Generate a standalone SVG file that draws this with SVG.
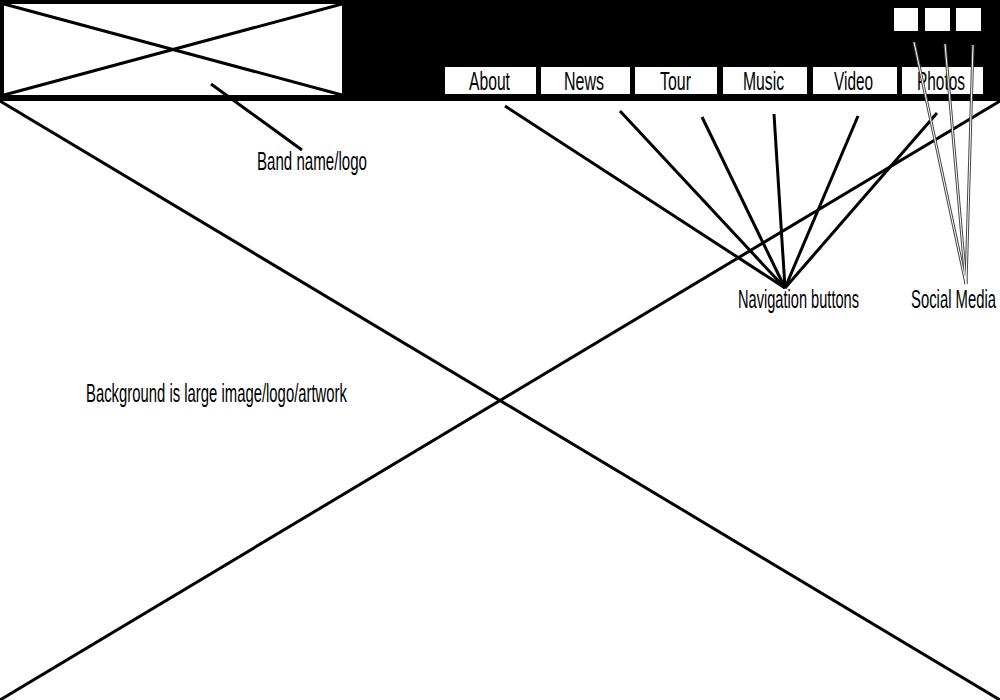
<svg xmlns="http://www.w3.org/2000/svg" width="1000" height="700" viewBox="0 0 1000 700">
<style>
.t{font-family:"Liberation Sans",Arial,sans-serif;font-size:25px;fill:#000}
.ln{stroke:#000;stroke-width:3;fill:none;stroke-linecap:butt}
.btn{fill:#fff}
.so{stroke:#444;stroke-width:3;fill:none}
.si{stroke:#fff;stroke-width:1;fill:none}
</style>
<rect x="0" y="0" width="1000" height="700" fill="#fff"/>
<g id="background">
<line class="ln" x1="0" y1="101" x2="1000" y2="700"/>
<line class="ln" x1="1000" y1="101" x2="0" y2="700"/>
<text class="t" transform="translate(86,402) scale(0.6,1)" x="0" y="0" textLength="435" lengthAdjust="spacingAndGlyphs">Background is large image/logo/artwork</text>
</g>
<g id="header">
<rect x="0" y="0" width="1000" height="101" fill="#000"/>
</g>
<g id="logo">
<rect x="4" y="4" width="338" height="91" fill="#fff"/>
<line class="ln" x1="4" y1="4" x2="342" y2="95"/>
<line class="ln" x1="4" y1="95" x2="342" y2="4"/>
</g>
<g id="nav-about"><rect class="btn" x="445" y="67" width="91" height="27"/><text class="t" transform="translate(469,90) scale(0.6,1)" x="0" y="0" textLength="68.3" lengthAdjust="spacingAndGlyphs">About</text></g>
<g id="nav-news"><rect class="btn" x="541" y="67" width="89" height="27"/><text class="t" transform="translate(564,90) scale(0.6,1)" x="0" y="0" textLength="66.7" lengthAdjust="spacingAndGlyphs">News</text></g>
<g id="nav-tour"><rect class="btn" x="635" y="67" width="82" height="27"/><text class="t" transform="translate(660,90) scale(0.6,1)" x="0" y="0" textLength="51.7" lengthAdjust="spacingAndGlyphs">Tour</text></g>
<g id="nav-music"><rect class="btn" x="723" y="67" width="84" height="27"/><text class="t" transform="translate(743,90) scale(0.6,1)" x="0" y="0" textLength="68.3" lengthAdjust="spacingAndGlyphs">Music</text></g>
<g id="nav-video"><rect class="btn" x="813" y="67" width="84" height="27"/><text class="t" transform="translate(834,90) scale(0.6,1)" x="0" y="0" textLength="65" lengthAdjust="spacingAndGlyphs">Video</text></g>
<g id="nav-photos"><rect class="btn" x="902" y="67" width="81" height="27"/><text class="t" transform="translate(917,90) scale(0.6,1)" x="0" y="0" textLength="80" lengthAdjust="spacingAndGlyphs">Photos</text></g>
<g id="social-1"><rect class="btn" x="894" y="8" width="24" height="23"/></g>
<g id="social-2"><rect class="btn" x="925" y="8" width="25" height="23"/></g>
<g id="social-3"><rect class="btn" x="956" y="8" width="25" height="23"/></g>
<g id="label-band"><text class="t" transform="translate(257,170) scale(0.6,1)" x="0" y="0" textLength="183.3" lengthAdjust="spacingAndGlyphs">Band name/logo</text></g>
<g id="label-nav"><text class="t" transform="translate(738,308) scale(0.6,1)" x="0" y="0" textLength="201.7" lengthAdjust="spacingAndGlyphs">Navigation buttons</text></g>
<g id="label-social"><text class="t" transform="translate(911,308) scale(0.6,1)" x="0" y="0" textLength="141.7" lengthAdjust="spacingAndGlyphs">Social Media</text></g>
<g id="connectors">
<line class="ln" x1="211" y1="84" x2="302" y2="150"/>
<line class="ln" x1="505" y1="106" x2="785" y2="288"/>
<line class="ln" x1="620" y1="111" x2="785" y2="288"/>
<line class="ln" x1="702" y1="117" x2="785" y2="288"/>
<line class="ln" x1="774" y1="114" x2="785" y2="288"/>
<line class="ln" x1="858" y1="116" x2="785" y2="288"/>
<line class="ln" x1="937" y1="113" x2="785" y2="288"/>
<line class="so" x1="914" y1="42" x2="966" y2="284"/>
<line class="so" x1="945" y1="44" x2="966" y2="284"/>
<line class="so" x1="973" y1="45" x2="966" y2="284"/>
<line class="si" x1="914" y1="42" x2="966" y2="284"/>
<line class="si" x1="945" y1="44" x2="966" y2="284"/>
<line class="si" x1="973" y1="45" x2="966" y2="284"/>
</g>
</svg>
